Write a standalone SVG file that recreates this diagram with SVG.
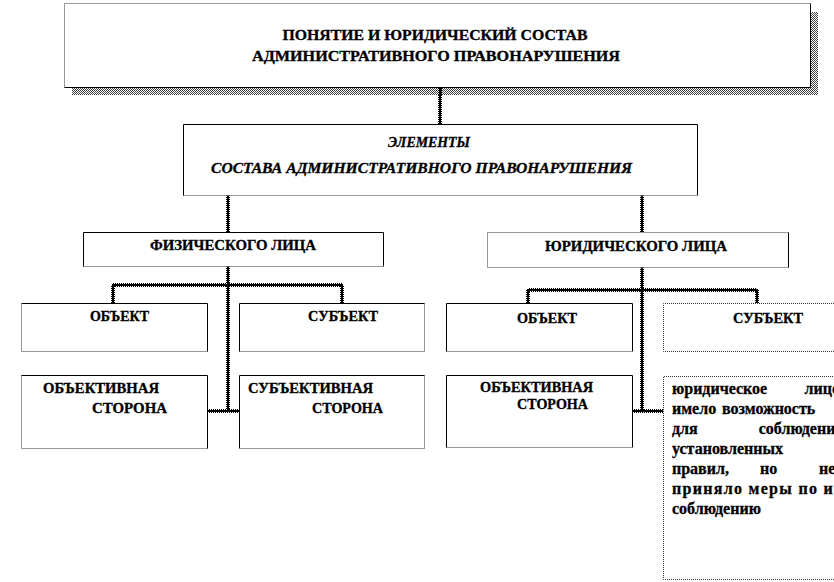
<svg xmlns="http://www.w3.org/2000/svg" width="834" height="582" viewBox="0 0 834 582">
<defs>
<pattern id="chk" width="2" height="2" patternUnits="userSpaceOnUse">
<rect width="2" height="2" fill="#fff"/>
<rect x="0" y="0" width="1" height="1" fill="#444"/>
<rect x="1" y="1" width="1" height="1" fill="#444"/>
</pattern>
</defs>
<style>
.bg{fill:#fff;stroke:none}
.sol{fill:none;stroke:#000;stroke-width:1}
.dot{fill:none;stroke:#333;stroke-width:1;stroke-dasharray:1 1}
.t{font-family:"Liberation Serif","DejaVu Serif","Times New Roman",serif;font-weight:bold;font-size:14px;fill:#000;stroke:#000;stroke-width:0.3}
.c{text-anchor:middle}
.i{font-style:italic}
.big{font-size:15px}
.body{font-size:16px}
.e{text-anchor:end}
.cu{fill:none;stroke:#000;stroke-width:4;stroke-dasharray:1 1}
.co{fill:none;stroke:#000;stroke-width:2}
</style>
<rect width="834" height="582" fill="#fff"/>

<g id="connectors">
<path class="cu" d="M440 87V124M228 195V232M642 195V232M228 266V411M207 411H239M113 303V285H342V303M642 267V411M632 411H663M528 303V290H757V303"/>
<path class="co" d="M440 87V124M228 195V232M642 195V232M228 266V411M207 411H239M113 303V285H342V303M642 267V411M632 411H663M528 303V290H757V303"/>
</g>

<g id="title">
<rect x="72" y="88" width="746" height="7" fill="url(#chk)"/>
<rect x="811" y="12" width="7" height="83" fill="url(#chk)"/>
<rect class="bg" x="64.5" y="3.5" width="746" height="84"/>
<path class="sol" d="M810.5 3.5V87.5H64.5"/>
<path class="dot" d="M64.5 87.5V3.5H810.5"/>
<path class="cu" d="M440 88V95"/>
<path class="co" d="M440 88V95"/>
<text class="t big c" x="435" y="40" textLength="305" lengthAdjust="spacingAndGlyphs">ПОНЯТИЕ  И ЮРИДИЧЕСКИЙ  СОСТАВ</text>
<text class="t big c" x="436" y="61" textLength="368" lengthAdjust="spacingAndGlyphs">АДМИНИСТРАТИВНОГО  ПРАВОНАРУШЕНИЯ</text>
</g>

<g id="elements">
<rect class="bg" x="183.5" y="124.5" width="514" height="71"/>
<path class="sol" d="M183.5 195.5V124.5H697.5V195.5"/>
<path class="dot" d="M183.5 195.5H697.5"/>
<text class="t i c" x="429" y="147" textLength="82" lengthAdjust="spacingAndGlyphs">ЭЛЕМЕНТЫ</text>
<text class="t i c" x="421.5" y="173" textLength="421" lengthAdjust="spacingAndGlyphs">СОСТАВА АДМИНИСТРАТИВНОГО ПРАВОНАРУШЕНИЯ</text>
</g>

<g id="fiz">
<rect class="bg" x="83.5" y="232.5" width="300" height="34"/>
<path class="sol" d="M83.5 266.5V232.5H383.5V266.5"/>
<path class="dot" d="M83.5 266.5H383.5"/>
<text class="t c" x="233" y="250" textLength="166" lengthAdjust="spacingAndGlyphs">ФИЗИЧЕСКОГО ЛИЦА</text>
</g>

<g id="yur">
<rect class="bg" x="487.5" y="232.5" width="301" height="35"/>
<path class="sol" d="M788.5 232.5V267.5"/>
<path class="dot" d="M788.5 267.5H487.5V232.5H788.5"/>
<text class="t c" x="636" y="251" textLength="182" lengthAdjust="spacingAndGlyphs">ЮРИДИЧЕСКОГО ЛИЦА</text>
</g>

<g id="obj-fiz">
<rect class="bg" x="21.5" y="303.5" width="186" height="48"/>
<path class="sol" d="M21.5 303.5H207.5V351.5"/>
<path class="dot" d="M207.5 351.5H21.5V303.5"/>
<text class="t" x="90" y="321" textLength="59" lengthAdjust="spacingAndGlyphs">ОБЪЕКТ</text>
</g>

<g id="sub-fiz">
<rect class="bg" x="239.5" y="303.5" width="185" height="48"/>
<path class="sol" d="M239.5 351.5V303.5H424.5"/>
<path class="dot" d="M424.5 303.5V351.5H239.5"/>
<text class="t" x="308" y="321" textLength="70" lengthAdjust="spacingAndGlyphs">СУБЪЕКТ</text>
</g>

<g id="obj-yur">
<rect class="bg" x="446.5" y="303.5" width="186" height="48"/>
<path class="sol" d="M446.5 351.5V303.5H632.5V351.5"/>
<path class="dot" d="M446.5 351.5H632.5"/>
<text class="t" x="517" y="323" textLength="60" lengthAdjust="spacingAndGlyphs">ОБЪЕКТ</text>
</g>

<g id="sub-yur">
<rect class="bg" x="663.5" y="303.5" width="200" height="48"/>
<path class="dot" d="M840 351.5H663.5V303.5H840"/>
<text class="t" x="733" y="323" textLength="70" lengthAdjust="spacingAndGlyphs">СУБЪЕКТ</text>
</g>

<g id="objside-fiz">
<rect class="bg" x="21.5" y="375.5" width="186" height="73"/>
<path class="sol" d="M21.5 375.5H207.5V448.5"/>
<path class="dot" d="M207.5 448.5H21.5V375.5"/>
<text class="t" x="43" y="393" textLength="116" lengthAdjust="spacingAndGlyphs">ОБЪЕКТИВНАЯ</text>
<text class="t" x="92" y="413" textLength="75" lengthAdjust="spacingAndGlyphs">СТОРОНА</text>
</g>

<g id="subside-fiz">
<rect class="bg" x="239.5" y="375.5" width="185" height="73"/>
<path class="sol" d="M239.5 448.5V375.5H424.5"/>
<path class="dot" d="M424.5 375.5V448.5H239.5"/>
<text class="t" x="248" y="393" textLength="125" lengthAdjust="spacingAndGlyphs">СУБЪЕКТИВНАЯ</text>
<text class="t" x="312" y="413" textLength="71" lengthAdjust="spacingAndGlyphs">СТОРОНА</text>
</g>

<g id="objside-yur">
<rect class="bg" x="446.5" y="375.5" width="186" height="72"/>
<path class="sol" d="M446.5 447.5V375.5H632.5V447.5"/>
<path class="dot" d="M446.5 447.5H632.5"/>
<text class="t" x="480" y="392" textLength="113" lengthAdjust="spacingAndGlyphs">ОБЪЕКТИВНАЯ</text>
<text class="t" x="517" y="409" textLength="71" lengthAdjust="spacingAndGlyphs">СТОРОНА</text>
</g>

<g id="subside-yur">
<rect class="bg" x="663.5" y="376.5" width="200" height="203"/>
<path class="dot" d="M840 579.5H663.5V376.5H840"/>
<text class="t body" x="672" y="394">юридическое</text>
<text class="t body e" x="840" y="394">лицо</text>
<text class="t body" x="672" y="414">имело</text>
<text class="t body" x="722" y="414">возможность</text>
<text class="t body" x="672" y="434">для</text>
<text class="t body e" x="844" y="434">соблюдения</text>
<text class="t body" x="672" y="454">установленных</text>
<text class="t body" x="672" y="474">правил,</text>
<text class="t body" x="760" y="474">но</text>
<text class="t body" x="819" y="474">не</text>
<text class="t body" x="672" y="494" textLength="170" lengthAdjust="spacing">приняло меры по их</text>
<text class="t body" x="672" y="514">соблюдению</text>
</g>
</svg>
